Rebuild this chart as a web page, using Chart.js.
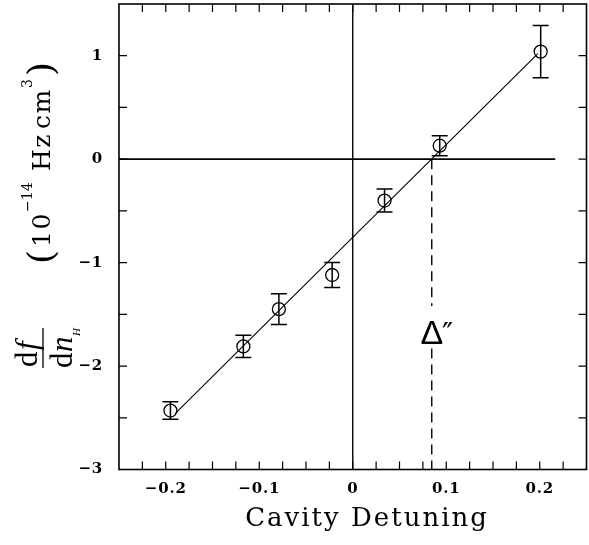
<!DOCTYPE html>
<html><head><meta charset="utf-8">
<script src="https://cdn.jsdelivr.net/npm/chart.js@4"></script>
<style>html,body{margin:0;padding:0;background:#fff}canvas{display:block}</style>
</head><body>
<canvas id="c" width="589" height="545"></canvas>
<script>
// ---- data ----
const detuning = [-0.195, -0.117, -0.079, -0.022, 0.034, 0.093, 0.201];
const dfdn     = [-2.43, -1.81, -1.45, -1.12, -0.40, 0.13, 1.04];
const dfdnErr  = [0.085, 0.107, 0.148, 0.121, 0.111, 0.097, 0.252];
const fitX = [-0.19, 0.198];
const fitY = [-2.46, 1.02];
const crossing = 0.0845;                 // Δ″ position
const dashedY = [0, -1.42, null, -1.83, -3];
const zeroLineX = [-0.25, 0.2166];
const zeroLineY = [-3, 1.5];
const labelY = -1.785;
const xTickValues = [-0.2, -0.1, 0, 0.1, 0.2];
const xTickLabels = ['\u22120.2', '\u22120.1', '0', '0.1', '0.2'];
const yTickValues = [-3, -2, -1, 0, 1];
const yTickLabels = ['\u22123', '\u22122', '\u22121', '0', '1'];
const xTitle = 'Cavity Detuning';

function lookup(vals, labels, v) {
  for (let i = 0; i < vals.length; i++) if (Math.abs(vals[i] - v) < 1e-6) return labels[i];
  return '';
}

const spacingPlugin = {
  id: 'spacing',
  beforeUpdate(chart) { chart.ctx.letterSpacing = '0.8px'; },
  beforeDraw(chart) { chart.ctx.letterSpacing = '0.8px'; }
};

function zeroPad(s) { s.paddingTop = 0; s.paddingBottom = 0; s.paddingLeft = 0; s.paddingRight = 0; }

const decorPlugin = {
  id: 'decor',
  afterDatasetsDraw(chart) {
    const ctx = chart.ctx, xs = chart.scales.x, ys = chart.scales.y;
    // error bars
    ctx.save();
    ctx.strokeStyle = '#000';
    ctx.lineWidth = 1.5;
    for (let i = 0; i < detuning.length; i++) {
      const px = xs.getPixelForValue(detuning[i]);
      const pt = ys.getPixelForValue(dfdn[i] + dfdnErr[i]);
      const pb = ys.getPixelForValue(dfdn[i] - dfdnErr[i]);
      ctx.beginPath();
      ctx.moveTo(px, pt); ctx.lineTo(px, pb);
      ctx.moveTo(px - 8, pt); ctx.lineTo(px + 8, pt);
      ctx.moveTo(px - 8, pb); ctx.lineTo(px + 8, pb);
      ctx.stroke();
    }
    ctx.restore();
    // Δ″ label
    ctx.save();
    ctx.letterSpacing = '0px';
    ctx.fillStyle = '#000';
    const lx = xs.getPixelForValue(crossing), ly = ys.getPixelForValue(labelY);
    ctx.font = '34px "Liberation Sans"';
    ctx.textAlign = 'center';
    ctx.textBaseline = 'alphabetic';
    ctx.fillText('\u0394', lx, ly);
    const w = ctx.measureText('\u0394').width;
    ctx.font = '30px "DejaVu Sans"';
    ctx.textAlign = 'left';
    ctx.fillText('\u2033', lx + w / 2 - 1, ly);
    ctx.restore();
  },
  afterDraw(chart) {
    const ctx = chart.ctx, a = chart.chartArea, xs = chart.scales.x, ys = chart.scales.y;
    ctx.save();
    ctx.strokeStyle = '#000';
    ctx.lineWidth = 1.6;
    ctx.strokeRect(a.left, a.top, a.right - a.left, a.bottom - a.top);
    ctx.lineWidth = 1.2;
    ctx.beginPath();
    xs.ticks.forEach(t => {
      const p = xs.getPixelForValue(t.value);
      if (p <= a.left + 1 || p >= a.right - 1) return;
      ctx.moveTo(p, a.bottom); ctx.lineTo(p, a.bottom - 8);
      ctx.moveTo(p, a.top); ctx.lineTo(p, a.top + 8);
    });
    ys.ticks.forEach(t => {
      const p = ys.getPixelForValue(t.value);
      if (p <= a.top + 1 || p >= a.bottom - 1) return;
      ctx.moveTo(a.left, p); ctx.lineTo(a.left + 8, p);
      ctx.moveTo(a.right, p); ctx.lineTo(a.right - 8, p);
    });
    ctx.stroke();
    ctx.restore();

    // x title
    ctx.save();
    ctx.fillStyle = '#000';
    ctx.letterSpacing = '2px';
    ctx.font = '26px "DejaVu Serif"';
    ctx.textAlign = 'center';
    ctx.textBaseline = 'alphabetic';
    ctx.fillText(xTitle, 367, 526);
    ctx.restore();

    // y title: (10^-14 Hz cm^3)
    ctx.save();
    ctx.fillStyle = '#000';
    ctx.translate(50, 272);
    ctx.rotate(-Math.PI / 2);
    ctx.textBaseline = 'alphabetic';
    ctx.textAlign = 'left';
    ctx.letterSpacing = '0px';
    ctx.font = '36px "DejaVu Serif"';
    ctx.fillText('(', 8, 3);
    ctx.letterSpacing = '1.5px';
    ctx.font = '25px "DejaVu Serif"';
    ctx.fillText('10', 25, 0);
    ctx.letterSpacing = '0px';
    ctx.font = '14px "DejaVu Serif"';
    ctx.fillText('\u221214', 60, -18);
    ctx.letterSpacing = '1.5px';
    ctx.font = '25px "DejaVu Serif"';
    ctx.fillText('Hz', 101, 0);
    ctx.fillText('cm', 143, 0);
    ctx.letterSpacing = '0px';
    ctx.font = '14px "DejaVu Serif"';
    ctx.fillText('3', 184, -18);
    ctx.font = '36px "DejaVu Serif"';
    ctx.fillText(')', 196, 3);
    ctx.restore();

    // y title: df / dn_H fraction
    ctx.save();
    ctx.fillStyle = '#000';
    ctx.strokeStyle = '#000';
    ctx.translate(43, 348);
    ctx.rotate(-Math.PI / 2);
    ctx.letterSpacing = '0px';
    ctx.lineWidth = 1.3;
    ctx.beginPath(); ctx.moveTo(-20, 0); ctx.lineTo(20, 0); ctx.stroke();
    ctx.textBaseline = 'alphabetic';
    ctx.textAlign = 'left';
    ctx.font = '31px "Liberation Serif"';
    ctx.fillText('d', -19, -6);
    ctx.font = 'italic 31px "Liberation Serif"';
    ctx.fillText('f', -2, -6);
    ctx.font = '31px "Liberation Serif"';
    ctx.fillText('d', -20, 29);
    ctx.font = 'italic 31px "Liberation Serif"';
    ctx.fillText('n', -4, 29);
    ctx.font = 'italic 11px "Liberation Serif"';
    ctx.fillText('H', 12, 37);
    ctx.restore();
  }
};

const line = (data, extra) => Object.assign({
  type: 'line', data, showLine: true, borderColor: '#000', borderWidth: 1,
  pointRadius: 0, fill: false, tension: 0
}, extra || {});

new Chart(document.getElementById('c'), {
  type: 'scatter',
  data: {
    datasets: [
      line(zeroLineX.map(x => ({x, y: 0})), {borderWidth: 1.8}),
      line(zeroLineY.map(y => ({x: 0, y})), {borderWidth: 1.4}),
      line(dashedY.map(y => ({x: crossing, y})), {borderWidth: 1.4, borderDash: [10, 6], spanGaps: false}),
      line(fitX.map((x, i) => ({x, y: fitY[i]})), {borderWidth: 1.1}),
      {
        type: 'scatter',
        data: detuning.map((x, i) => ({x, y: dfdn[i]})),
        pointStyle: 'circle', pointRadius: 6.5, borderWidth: 1.3,
        borderColor: '#000', backgroundColor: 'rgba(0,0,0,0)'
      }
    ]
  },
  options: {
    responsive: false,
    animation: false,
    devicePixelRatio: 1,
    layout: {autoPadding: false, padding: {left: 0, top: 4, right: 2.5, bottom: 0}},
    plugins: {legend: {display: false}, tooltip: {enabled: false}},
    scales: {
      x: {
        type: 'linear', min: -0.25, max: 0.25,
        grid: {display: false, drawTicks: false}, border: {display: false},
        afterFit(s) { s.height = 75.5; zeroPad(s); },
        ticks: {
          stepSize: 0.025, autoSkip: false, maxRotation: 0, padding: 11,
          color: '#000', font: {family: '"DejaVu Serif"', size: 15, weight: 'bold'},
          callback: v => lookup(xTickValues, xTickLabels, v)
        }
      },
      y: {
        type: 'linear', min: -3, max: 1.5,
        grid: {display: false, drawTicks: false}, border: {display: false},
        afterFit(s) { s.width = 119; zeroPad(s); },
        ticks: {
          stepSize: 0.5, autoSkip: false, padding: 16,
          color: '#000', font: {family: '"DejaVu Serif"', size: 15, weight: 'bold'},
          callback: v => lookup(yTickValues, yTickLabels, v)
        }
      }
    }
  },
  plugins: [spacingPlugin, decorPlugin]
});
</script>
</body></html>
